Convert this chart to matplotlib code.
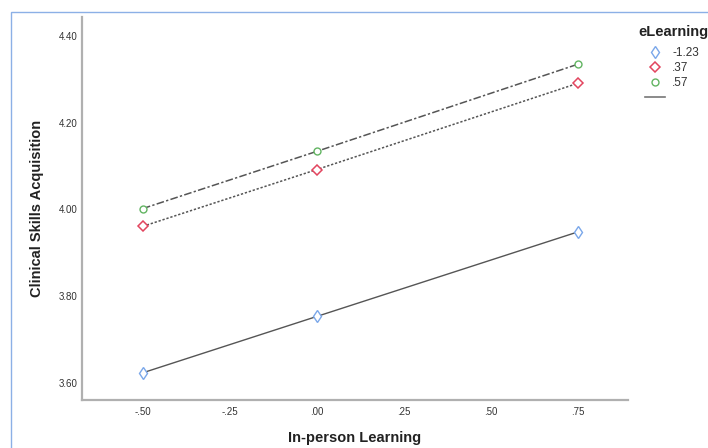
import matplotlib.pyplot as plt
from matplotlib.lines import Line2D
from matplotlib.patches import Rectangle

plt.rcParams['font.family'] = ['Liberation Sans', 'DejaVu Sans']

# data
x_vals = [-0.50, 0.00, 0.75]
levels = ['-1.23', '.37', '.57']
low = [3.623, 3.753, 3.948]
mid = [3.961, 4.092, 4.291]
high = [4.002, 4.134, 4.335]
x_ticks = [-0.50, -0.25, 0.00, 0.25, 0.50, 0.75]
x_tick_labels = ['-.50', '-.25', '.00', '.25', '.50', '.75']
y_ticks = [3.60, 3.80, 4.00, 4.20, 4.40]
y_tick_labels = ['3.60', '3.80', '4.00', '4.20', '4.40']

fig = plt.figure(figsize=(7.08, 4.48), dpi=100)
ax = fig.add_axes([0.1158, 0.107, 0.771, 0.855])

line_col = '#555555'
ax.plot(x_vals, low, color=line_col, lw=1.0, ls='-', zorder=2)
ax.plot(x_vals, mid, color=line_col, lw=1.1, ls=(0, (1.5, 1.2)), zorder=2)
ax.plot(x_vals, high, color=line_col, lw=1.1, ls=(0, (5, 1.5, 1.5, 1.5)), zorder=2)

ax.plot(x_vals, low, ls='none', marker='d', ms=6, mfc='white', mec='#7aa7ea', mew=1.0, zorder=3)
ax.plot(x_vals, mid, ls='none', marker='D', ms=5, mfc='white', mec='#e2455f', mew=1.1, zorder=3)
ax.plot(x_vals, high, ls='none', marker='o', ms=5, mfc='white', mec='#62b462', mew=1.0, zorder=3)

ax.set_xlim(-0.675, 0.894)
ax.set_ylim(3.56, 4.444)
ax.set_xticks(x_ticks)
ax.set_xticklabels(x_tick_labels)
ax.set_yticks(y_ticks)
ax.set_yticklabels(y_tick_labels)
ax.tick_params(length=0, labelsize=7, colors='#333333')
ax.tick_params(axis='x', pad=5)
ax.tick_params(axis='y', pad=3.5)

for s in ['top', 'right']:
    ax.spines[s].set_visible(False)
for s in ['left', 'bottom']:
    ax.spines[s].set_color('#b0b0b0')
    ax.spines[s].set_linewidth(1.6)

ax.set_xlabel('In-person Learning', fontsize=10.5, fontweight='bold', color='#222222', labelpad=10)
ax.set_ylabel('Clinical Skills Acquisition', fontsize=10.5, fontweight='bold', color='#222222', labelpad=10)

handles = [
    Line2D([], [], ls='none', marker='d', ms=6, mfc='white', mec='#7aa7ea', mew=1.0),
    Line2D([], [], ls='none', marker='D', ms=5, mfc='white', mec='#e2455f', mew=1.1),
    Line2D([], [], ls='none', marker='o', ms=5, mfc='white', mec='#62b462', mew=1.0),
    Line2D([], [], color='#777777', lw=1.2),
]
leg = ax.legend(handles, levels + [''], loc='upper left', bbox_to_anchor=(645 / 708, 1 - 47 / 448),
                bbox_transform=fig.transFigure, frameon=False, fontsize=8.5,
                handlelength=1.7, handletextpad=0.6, labelspacing=0.25,
                borderaxespad=0, borderpad=0)
for t in leg.get_texts():
    t.set_color('#333333')
fig.text(638 / 708, 1 - 32 / 448, 'eLearning', fontsize=10.5, fontweight='bold',
         color='#222222', ha='left', va='center')

# thin blue frame around the picture
fig.patches.append(Rectangle((11 / 708, -0.05), 1.1, 1 - 12 / 448 + 0.05,
                             transform=fig.transFigure, fill=False,
                             edgecolor='#8cb0e6', lw=1.0, clip_on=False))

fig.savefig('out.png', dpi=100)
